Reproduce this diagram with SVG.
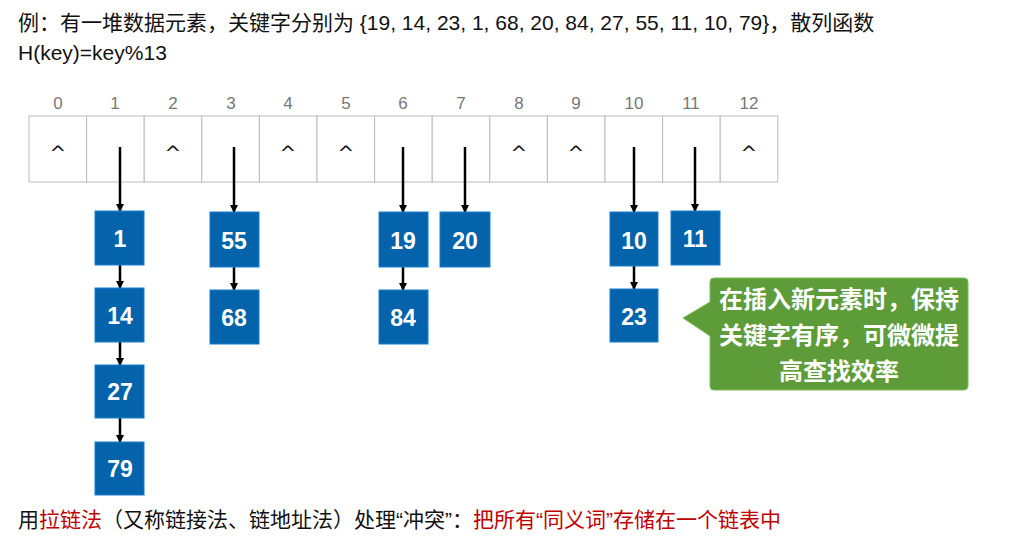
<svg xmlns="http://www.w3.org/2000/svg" width="1019" height="544" viewBox="0 0 1019 544">
<defs>
<marker id="ah" markerWidth="8" markerHeight="8" refX="7" refY="4" orient="auto" markerUnits="userSpaceOnUse"><path d="M0,0 L8,4 L0,8 z" fill="#000"/></marker>
<style>
.t{font-family:"Liberation Sans","Noto Sans CJK SC",sans-serif;font-size:21px;fill:#111}
.idx{font-family:"Liberation Sans",sans-serif;font-size:17px;fill:#777;text-anchor:middle}
.cell{fill:#fff;stroke:#bbb;stroke-width:1}
.car{font-family:"DejaVu Sans",sans-serif;font-size:20px;fill:#111;text-anchor:middle}
.nd rect{fill:#0563ac;stroke:#1a7fcf;stroke-width:1}
.nd text{font-family:"Liberation Sans",sans-serif;font-weight:bold;font-size:23px;fill:#fff;text-anchor:middle}
.c line{stroke:#000;stroke-width:2.5;marker-end:url(#ah)}
.red{fill:#c00000}
.co{font-family:"Noto Sans CJK SC",sans-serif;font-weight:bold;font-size:24px;fill:#fff;text-anchor:middle}
</style>
</defs>
<rect width="1019" height="544" fill="#fff"/>
<text class="t" x="18" y="30">例：有一堆数据元素，关键字分别为 {19, 14, 23, 1, 68, 20, 84, 27, 55, 11, 10, 79}，散列函数</text>
<text class="t" x="18" y="60">H(key)=key%13</text>
<g id="table">
<g class="cell">
<rect x="29" y="116" width="57.6" height="66"/><rect x="86.6" y="116" width="57.6" height="66"/><rect x="144.2" y="116" width="57.6" height="66"/><rect x="201.8" y="116" width="57.6" height="66"/><rect x="259.4" y="116" width="57.6" height="66"/><rect x="317" y="116" width="57.6" height="66"/><rect x="374.6" y="116" width="57.6" height="66"/><rect x="432.2" y="116" width="57.6" height="66"/><rect x="489.8" y="116" width="57.6" height="66"/><rect x="547.4" y="116" width="57.6" height="66"/><rect x="605" y="116" width="57.6" height="66"/><rect x="662.6" y="116" width="57.6" height="66"/><rect x="720.2" y="116" width="57.6" height="66"/>
</g>
<text class="idx" x="58" y="109">0</text><text class="idx" x="115" y="109">1</text><text class="idx" x="173" y="109">2</text><text class="idx" x="231" y="109">3</text><text class="idx" x="288" y="109">4</text><text class="idx" x="346" y="109">5</text><text class="idx" x="403" y="109">6</text><text class="idx" x="461" y="109">7</text><text class="idx" x="519" y="109">8</text><text class="idx" x="576" y="109">9</text><text class="idx" x="634" y="109">10</text><text class="idx" x="691" y="109">11</text><text class="idx" x="749" y="109">12</text>
<text class="car" x="58" y="160">^</text><text class="car" x="173" y="160">^</text><text class="car" x="288" y="160">^</text><text class="car" x="346" y="160">^</text><text class="car" x="519" y="160">^</text><text class="car" x="576" y="160">^</text><text class="car" x="749" y="160">^</text>
</g>
<g id="connectors" class="c">
<line x1="120" y1="147" x2="120" y2="211"/>
<line x1="234" y1="147" x2="234" y2="212"/>
<line x1="403" y1="147" x2="403" y2="212"/>
<line x1="465" y1="147" x2="465" y2="212"/>
<line x1="634" y1="147" x2="634" y2="212"/>
<line x1="695" y1="147" x2="695" y2="211"/>
<line x1="120" y1="265" x2="120" y2="288"/>
<line x1="120" y1="342" x2="120" y2="365"/>
<line x1="120" y1="418" x2="120" y2="442"/>
<line x1="234" y1="267" x2="234" y2="290"/>
<line x1="403" y1="267" x2="403" y2="290"/>
<line x1="634" y1="266" x2="634" y2="289"/>
</g>
<g id="n1" class="nd"><rect x="95" y="211" width="49" height="54"/><text x="120" y="247">1</text></g>
<g id="n14" class="nd"><rect x="95" y="288" width="49" height="54"/><text x="120" y="324">14</text></g>
<g id="n27" class="nd"><rect x="95" y="365" width="49" height="53"/><text x="120" y="400">27</text></g>
<g id="n79" class="nd"><rect x="95" y="442" width="49" height="53"/><text x="120" y="477">79</text></g>
<g id="n55" class="nd"><rect x="210" y="212" width="49" height="55"/><text x="234" y="249">55</text></g>
<g id="n68" class="nd"><rect x="210" y="290" width="49" height="54"/><text x="234" y="326">68</text></g>
<g id="n19" class="nd"><rect x="379" y="212" width="49" height="55"/><text x="403" y="249">19</text></g>
<g id="n84" class="nd"><rect x="379" y="290" width="49" height="54"/><text x="403" y="326">84</text></g>
<g id="n20" class="nd"><rect x="440" y="212" width="50" height="55"/><text x="465" y="249">20</text></g>
<g id="n10" class="nd"><rect x="610" y="212" width="48" height="54"/><text x="634" y="249">10</text></g>
<g id="n23" class="nd"><rect x="610" y="289" width="48" height="53"/><text x="634" y="325">23</text></g>
<g id="n11" class="nd"><rect x="671" y="211" width="49" height="54"/><text x="695" y="247">11</text></g>
<g id="callout">
<path d="M714,278 H964 a4,4 0 0 1 4,4 V386 a4,4 0 0 1 -4,4 H714 a4,4 0 0 1 -4,-4 V336 L683,318 L710,302 V282 a4,4 0 0 1 4,-4 z" fill="#5e9c3a" stroke="#7bbf55" stroke-width="1"/>
<text class="co" x="839" y="308">在插入新元素时，保持</text>
<text class="co" x="839" y="344">关键字有序，可微微提</text>
<text class="co" x="839" y="380">高查找效率</text>
</g>
<text class="t" x="18" y="527">用<tspan class="red">拉链法</tspan>（又称链接法、链地址法）处理“冲突”：<tspan class="red">把所有“同义词”存储在一个链表中</tspan></text>
</svg>
